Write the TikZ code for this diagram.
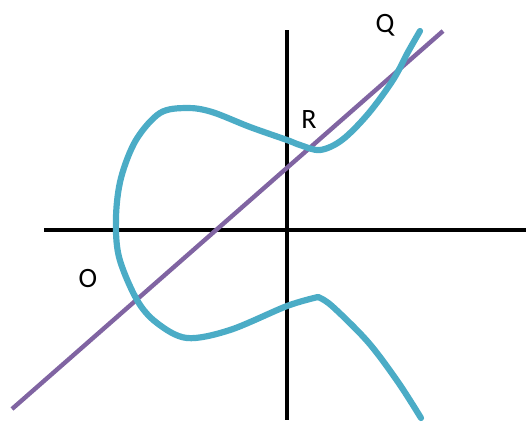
\documentclass[tikz,border=0pt]{standalone}
\usepackage{fontspec}
\setmainfont{Carlito}
\definecolor{curvecyan}{RGB}{75,172,198}
\definecolor{linepurple}{RGB}{128,100,162}

\begin{document}
\begin{tikzpicture}[x=1pt,y=-1pt]
                \useasboundingbox (0,0) rectangle (526,424);
                \draw[black, line width=3.2pt] (44,230) -- (526,230);
                \draw[black, line width=3.2pt] (287,30) -- (287,420);
                \draw[linepurple, line width=4.4pt] (12,409) -- (443,31);
                \draw[curvecyan, line width=6.2pt, line cap=round] plot[smooth, tension=0.55] coordinates {(420,31) (408,52) (393,80) (368,114) (342,140) (320,150) (300,145) (287,140) (250,127) (212,112) (187,108) (160,113) (136,140) (121,178) (116,217) (119,257) (137,300) (157,323) (187,338) (230,330) (287,306) (318,297)};
                \draw[curvecyan, line width=6.2pt, line cap=round] plot[smooth, tension=0.55] coordinates {(318,297) (332,306) (368,342) (398,382) (421,418)};
                \node (q) at (385,25) {\fontsize{28}{32}\selectfont Q};
                \node (r) at (309,120) {\fontsize{28}{32}\selectfont R};
                \node (o) at (88,279) {\fontsize{28}{32}\selectfont O};
            \end{tikzpicture}
\end{document}
